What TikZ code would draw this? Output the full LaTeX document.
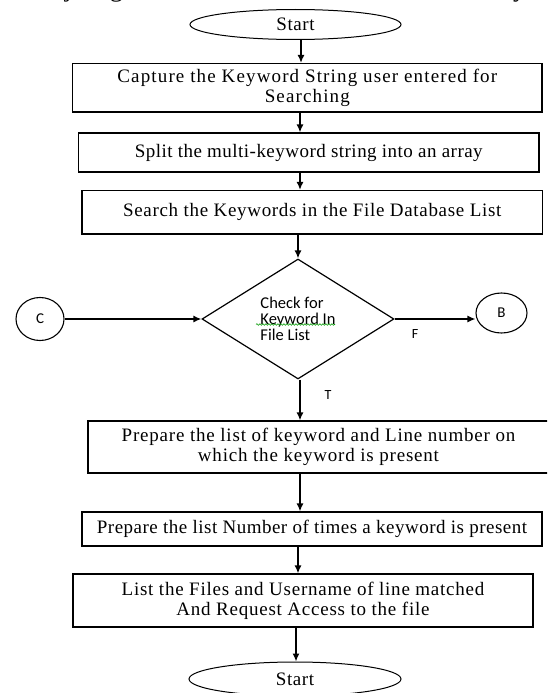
\documentclass[tikz,border=0pt]{standalone}
\usepackage{fontspec}
\setmainfont{Liberation Serif}
\newfontfamily\calfont{Carlito}
\usetikzlibrary{arrows.meta,shapes.geometric,decorations.pathmorphing,calc}
\newcommand\boxfont[1]{\fontsize{19}{20}\selectfont\addfontfeature{LetterSpace=#1}}
\begin{document}
\begin{tikzpicture}[x=1pt,y=-1pt,
  proc/.style={draw, line width=1.2pt, rectangle, inner sep=0pt, align=center},
  term/.style={draw, line width=1pt, ellipse, inner sep=0pt, font=\boxfont{3}},
  conn/.style={draw, line width=1.1pt, ellipse, inner sep=0pt, font=\calfont\fontsize{15}{16}\selectfont},
  arr/.style={line width=1.4pt, -{Latex[length=8pt,width=7pt]}},
  lbl/.style={font=\calfont\fontsize{14}{15}\selectfont, inner sep=0pt}]
\useasboundingbox (0,0) rectangle (547,693);
\fill[white] (0,0) rectangle (547,693);
\begin{scope}
\clip (0,0) rectangle (547,693);
\node[anchor=base west, inner sep=0pt, font=\fontsize{26.5}{30}\selectfont] (toptext) at (-25,-3) {order to just get the matched document with the keyword};

\node[term, minimum width=211pt, minimum height=30pt] (start) at (295.5,24.5) {Start};
\node[proc, minimum width=469.4pt, minimum height=48.5pt, font=\boxfont{6}] (b1) at (307.3,87.75) {Capture the Keyword String user entered for\\Searching};
\node[proc, minimum width=460.5pt, minimum height=39pt, font=\boxfont{2.5}] (b2) at (308.75,152.5) {Split the multi-keyword string into an array};
\node[proc, minimum width=460.5pt, minimum height=43.5pt, font=\boxfont{3.6}] (b3) at (312.25,212.25) {Search the Keywords in the File Database List};
\node[draw, line width=1.2pt, shape=diamond, inner sep=0pt, minimum width=192pt, minimum height=120pt, align=left, font=\calfont\fontsize{16.5}{16}\selectfont] (dia) at (298,319) {Check for\\Keyword In\\File List};
\draw[green!60!black, line width=0.6pt, decorate, decoration={snake, amplitude=0.8pt, segment length=3pt}] ($(dia.center)+(-42,5.5)$) -- ($(dia.center)+(37,5.5)$);
\node[conn, minimum width=48pt, minimum height=43pt] (C) at (40,319) {C};
\node[conn, minimum width=51pt, minimum height=40pt] (B) at (501.5,313) {B};
\node[lbl] (F) at (415,334) {F};
\node[lbl] (T) at (328,395) {T};
\node[proc, minimum width=461pt, minimum height=52pt, font=\boxfont{4.2}] (b4) at (318.5,447) {Prepare the list of keyword and Line number on\\which the keyword is present};
\node[proc, minimum width=460pt, minimum height=34pt, font=\boxfont{2.6}] (b5) at (312,529) {Prepare the list Number of times a keyword is present};
\node[proc, minimum width=460pt, minimum height=53pt, font=\boxfont{4}] (b6) at (303,600.5) {List the Files and Username of line matched\\And Request Access to the file};
\node[term, minimum width=212pt, minimum height=34pt] (end) at (295,679) {Start};

\draw[arr] ([xshift=5.5pt]start.south) -- ([xshift=5.5pt]start.south |- b1.north);
\draw[arr] ([xshift=-7.3pt]b1.south) -- ([xshift=-7.3pt]b1.south |- b2.north);
\draw[arr] ([xshift=-8.75pt]b2.south) -- ([xshift=-8.75pt]b2.south |- b3.north);
\draw[arr] (b3.south -| dia.north) -- (dia.north);
\draw[arr] ([xshift=2pt]dia.south) -- ([xshift=2pt]dia.south |- b4.north);
\draw[arr] ([xshift=-18.5pt]b4.south) -- ([xshift=-18.5pt]b4.south |- b5.north);
\draw[arr] ([xshift=-14pt]b5.south) -- ([xshift=-14pt]b5.south |- b6.north);
\draw[arr] ([xshift=-7pt]b6.south) -- ([xshift=-7pt]b6.south |- end.north);
\draw[arr] (C.east) -- (dia.west);
\draw[arr] (dia.east) -- (dia.east -| B.west);
\end{scope}
\end{tikzpicture}
\end{document}
